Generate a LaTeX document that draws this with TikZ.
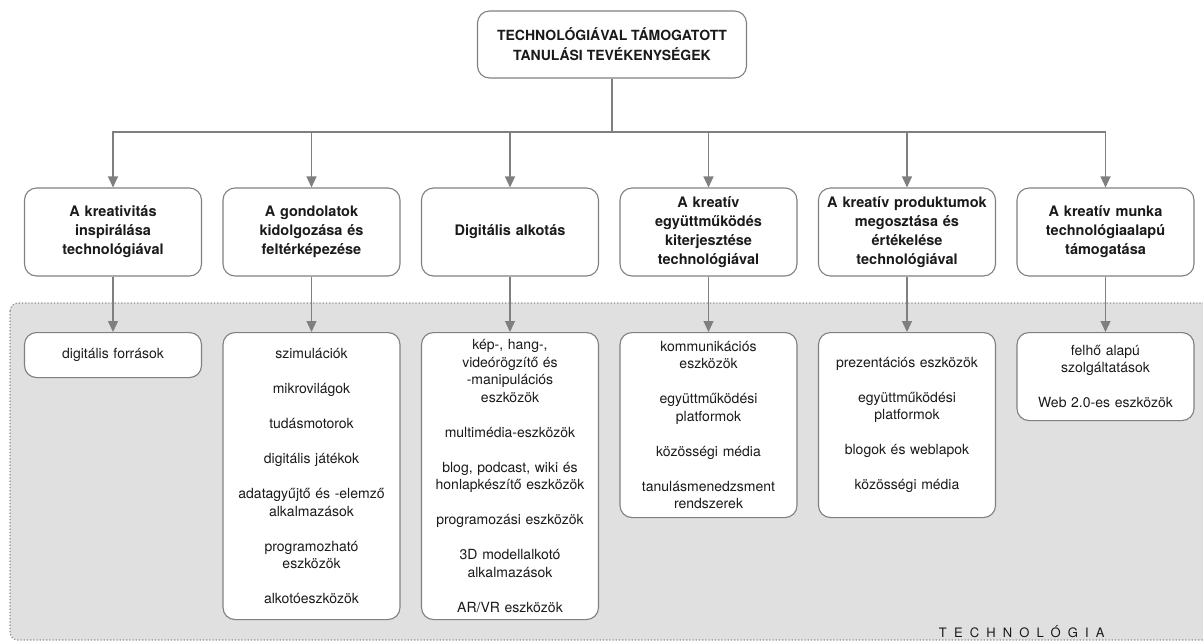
\documentclass[tikz,border=0pt]{standalone}
\usepackage{fontspec}
\setmainfont{TeX Gyre Heros}
\newfontfamily\spacedfont[LetterSpace=55]{TeX Gyre Heros}
\usepackage{tikz}
\usetikzlibrary{arrows.meta}
\definecolor{TTline}{HTML}{7F7F7F}
\definecolor{TTedge}{HTML}{808080}
\definecolor{TTback}{HTML}{E0E0E0}
\definecolor{TTdots}{HTML}{8C8C8C}
\definecolor{TTtext}{HTML}{1A1A1A}
\tikzset{
  roundbox/.style={draw=TTedge, fill=white, line width=1.1pt, rounded corners=12pt, align=center, text=TTtext, inner sep=3pt},
  titlebox/.style={roundbox, minimum width=269pt, minimum height=67pt, font=\fontsize{14}{20}\selectfont\bfseries},
  actbox/.style={roundbox, minimum width=177pt, minimum height=88pt, text width=171pt, font=\fontsize{14.5}{19}\selectfont\bfseries},
  toolbox/.style={roundbox, anchor=north, minimum width=177pt, text width=171pt, font=\fontsize{14}{17.5}\selectfont},
  arr/.style={draw=TTline, line width=1.2pt, -{Triangle[length=11pt,width=10pt]}}
}

\begin{document}
\begin{tikzpicture}[x=1pt, y=-1pt]
\useasboundingbox (0,0) rectangle (1203,641);
\clip (0,0) rectangle (1203,641);
\draw[fill=TTback, draw=TTdots, line width=1.2pt, dash pattern=on 1.2pt off 2pt, rounded corners=8pt] (10,303) rectangle (1220,640);
\node[anchor=east, text=TTtext, font=\fontsize{13}{15}\spacedfont] (techlabel) at (1108,632) {TECHNOLÓGIA};

\node[titlebox] (top) at (612,44.5) {TECHNOLÓGIÁVAL TÁMOGATOTT\\TANULÁSI TEVÉKENYSÉGEK};
\coordinate (bus) at (612,132);

\foreach \i/\x/\lab in {1/113/{A kreativitás\\inspirálása\\technológiával},
    2/311.5/{A gondolatok\\kidolgozása és\\feltérképezése},
    3/510/{Digitális alkotás},
    4/708.5/{A kreatív\\együttműködés\\kiterjesztése\\technológiával},
    5/907/{A kreatív produktumok\\megosztása és\\értékelése\\technológiával},
    6/1105.5/{A kreatív munka\\technológiaalapú\\támogatása}}{
  \node[actbox] (c\i) at (\x,232) {\lab};
  \draw[arr] (top.south) |- (c\i.north |- bus) -- (c\i.north);
}

\foreach \i/\x/\h/\lab in {1/113/45/{digitális források},
    2/311.5/287/{szimulációk\\[17.5pt]mikrovilágok\\[17.5pt]tudásmotorok\\[17.5pt]digitális játékok\\[17.5pt]adatagyűjtő és -elemző\\alkalmazások\\[17.5pt]programozható\\eszközök\\[17.5pt]alkotóeszközök},
    3/510/287/{kép-, hang-,\\videórögzítő és\\-manipulációs\\eszközök\\[17.5pt]multimédia-eszközök\\[17.5pt]blog, podcast, wiki és\\honlapkészítő eszközök\\[17.5pt]programozási eszközök\\[17.5pt]3D modellalkotó\\alkalmazások\\[17.5pt]AR/VR eszközök},
    4/708.5/185/{kommunikációs\\eszközök\\[17.5pt]együttműködési\\platformok\\[17.5pt]közösségi média\\[17.5pt]tanulásmenedzsment\\rendszerek},
    5/907/185/{prezentációs eszközök\\[17.5pt]együttműködési\\platformok\\[17.5pt]blogok és weblapok\\[17.5pt]közösségi média},
    6/1105.5/88/{felhő alapú\\szolgáltatások\\[17.5pt]Web 2.0-es eszközök}}{
  \node[toolbox, minimum height=\h pt] (t\i) at (\x,332) {\lab};
  \draw[arr] (c\i.south) -- (t\i.north);
}
\end{tikzpicture}
\end{document}
